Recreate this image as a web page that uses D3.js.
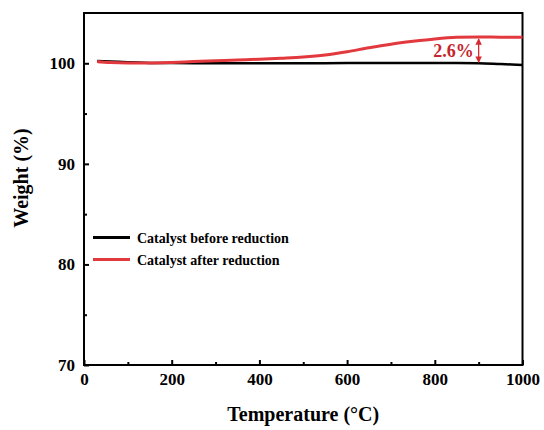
<!DOCTYPE html>
<html lang="en">
<head>
<meta charset="utf-8">
<title>TGA weight curves</title>
<script src="https://cdn.jsdelivr.net/npm/d3@7"></script>
<style>
  body { margin: 0; background: #fff; }
  text { font-family: "Liberation Serif", "Times New Roman", serif; font-weight: bold; }
</style>
</head>
<body>
<script>
// temperature (°C) and weight (%)
var tempBefore = [30, 60, 100, 150, 200, 300, 400, 500, 600, 700, 800, 850, 900, 950, 1000];
var weightBefore = [100.23, 100.18, 100.1, 100.04, 100.02, 100.01, 100.01, 100.01, 100.02, 100.03, 100.03, 100.02, 100.0, 99.92, 99.84];

var tempAfter = [30, 40, 60, 100, 150, 200, 250, 300, 350, 400, 450, 500, 550, 600, 650, 700, 750, 800, 850, 900, 950, 1000];
var weightAfter = [100.18, 100.12, 100.07, 100.03, 100.03, 100.08, 100.17, 100.25, 100.33, 100.4, 100.5, 100.62, 100.82, 101.15, 101.55, 101.9, 102.18, 102.42, 102.58, 102.62, 102.6, 102.58];

var xTicks = [0, 200, 400, 600, 800, 1000];
var yTicks = [70, 80, 90, 100];
var seriesNames = ["Catalyst before reduction", "Catalyst after reduction"];
var seriesColors = ["#000000", "#e2393e"];
var annotation = "2.6%";
var annotationAt = 900;

var w = 544, h = 430;
var mLeft = 84, mTop = 13, mRight = 522.5, mBottom = 365;

var svg = d3.select("body").append("svg")
    .attr("width", w)
    .attr("height", h);

var x = d3.scaleLinear().domain([0, 1000]).range([mLeft, mRight]);
var y = d3.scaleLinear().domain([70, 105]).range([mBottom, mTop]);

// minor ticks (inward)
var xMinor = d3.range(100, 1000, 200);
var yMinor = [75, 85, 95];

svg.append("g")
    .attr("transform", "translate(0," + mBottom + ")")
    .call(d3.axisBottom(x).tickValues(xTicks).tickSize(-5).tickPadding(8).tickFormat(d3.format("d")))
    .call(function(g) {
        g.select(".domain").remove();
        g.selectAll("line").attr("stroke-width", 2);
        g.selectAll("text").attr("font-size", 17).attr("fill", "#000");
    });
svg.append("g")
    .attr("transform", "translate(0," + mBottom + ")")
    .call(d3.axisBottom(x).tickValues(xMinor).tickSize(-3).tickFormat(""))
    .call(function(g) {
        g.select(".domain").remove();
        g.selectAll("line").attr("stroke-width", 2);
    });

svg.append("g")
    .attr("transform", "translate(" + mLeft + ",0)")
    .call(d3.axisLeft(y).tickValues(yTicks).tickSize(-5).tickPadding(9))
    .call(function(g) {
        g.select(".domain").remove();
        g.selectAll("line").attr("stroke-width", 2);
        g.selectAll("text").attr("font-size", 17).attr("fill", "#000");
    });
svg.append("g")
    .attr("transform", "translate(" + mLeft + ",0)")
    .call(d3.axisLeft(y).tickValues(yMinor).tickSize(-3).tickFormat(""))
    .call(function(g) {
        g.select(".domain").remove();
        g.selectAll("line").attr("stroke-width", 2);
    });

// frame
svg.append("rect")
    .attr("x", mLeft).attr("y", mTop)
    .attr("width", mRight - mLeft).attr("height", mBottom - mTop)
    .attr("fill", "none").attr("stroke", "#000").attr("stroke-width", 2);

// axis titles
svg.append("text")
    .attr("x", (mLeft + mRight) / 2).attr("y", 421)
    .attr("text-anchor", "middle").attr("font-size", 20)
    .text("Temperature (°C)");
svg.append("text")
    .attr("transform", "translate(28,178) rotate(-90)")
    .attr("text-anchor", "middle").attr("font-size", 20)
    .text("Weight (%)");

var line = d3.line()
    .x(function(d) { return x(d[0]); })
    .y(function(d) { return y(d[1]); })
    .curve(d3.curveMonotoneX);

svg.append("path")
    .datum(d3.zip(tempBefore, weightBefore))
    .attr("d", line)
    .attr("fill", "none").attr("stroke", seriesColors[0]).attr("stroke-width", 2.5);
svg.append("path")
    .datum(d3.zip(tempAfter, weightAfter))
    .attr("d", line)
    .attr("fill", "none").attr("stroke", seriesColors[1]).attr("stroke-width", 3);

// double arrow + label
var defs = svg.append("defs");
defs.append("marker")
    .attr("id", "arr").attr("viewBox", "0 0 10 10")
    .attr("refX", 9).attr("refY", 5)
    .attr("markerWidth", 5).attr("markerHeight", 5)
    .attr("orient", "auto-start-reverse")
    .append("path").attr("d", "M0,0L10,5L0,10z").attr("fill", "#d62a30");

var yA = y(weightAfter[tempAfter.indexOf(annotationAt)]) + 2;
var yB = y(weightBefore[tempBefore.indexOf(annotationAt)]) - 1;
svg.append("line")
    .attr("x1", x(annotationAt)).attr("x2", x(annotationAt))
    .attr("y1", yA).attr("y2", yB)
    .attr("stroke", "#d62a30").attr("stroke-width", 1.3)
    .attr("marker-start", "url(#arr)").attr("marker-end", "url(#arr)");
svg.append("text")
    .attr("x", x(annotationAt) - 5).attr("y", 57)
    .attr("text-anchor", "end").attr("font-size", 18)
    .attr("fill", "#c4262e")
    .text(annotation);

// legend
var legend = svg.append("g");
seriesNames.forEach(function(name, i) {
    var ly = 237.5 + i * 22;
    legend.append("line")
        .attr("x1", 93).attr("x2", 130).attr("y1", ly).attr("y2", ly)
        .attr("stroke", seriesColors[i]).attr("stroke-width", 3);
    legend.append("text")
        .attr("x", 137).attr("y", ly + 5)
        .attr("font-size", 14)
        .text(name);
});
</script>
</body>
</html>
